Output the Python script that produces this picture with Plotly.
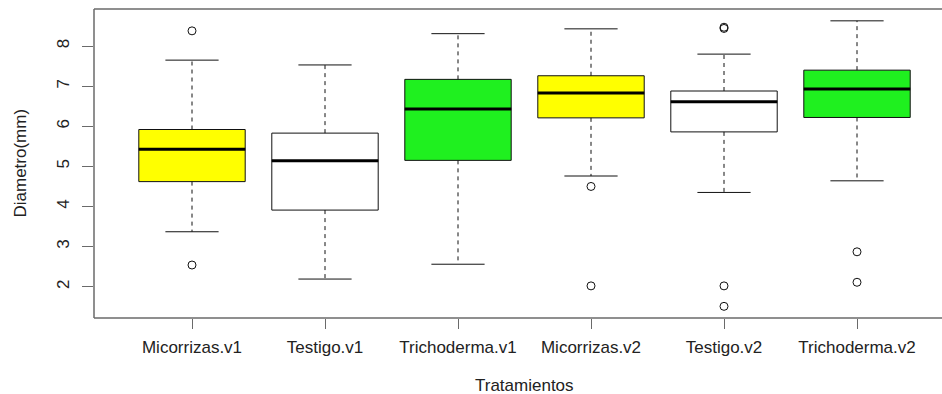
import plotly.graph_objects as go

# ---- data ----
categories = ["Micorrizas.v1", "Testigo.v1", "Trichoderma.v1",
              "Micorrizas.v2", "Testigo.v2", "Trichoderma.v2"]
lower_whisker = [3.37, 2.19, 2.56, 4.76, 4.35, 4.64]
q1 = [4.62, 3.91, 5.15, 6.21, 5.86, 6.22]
median = [5.43, 5.14, 6.43, 6.83, 6.61, 6.93]
q3 = [5.92, 5.83, 7.17, 7.26, 6.88, 7.40]
upper_whisker = [7.65, 7.53, 8.31, 8.43, 7.80, 8.63]
outliers = [[8.38, 2.54], [], [], [4.50, 2.02], [8.44, 8.47, 2.02, 1.51], [2.87, 2.11]]
fill_colors = ["#FFFF00", "#FFFFFF", "#1FF01F", "#FFFF00", "#FFFFFF", "#1FF01F"]
y_ticks = [2, 3, 4, 5, 6, 7, 8]

FONT = "Liberation Sans, Arial, Helvetica, sans-serif"
TXT = "#222222"
FRAME = "#6a6a6a"
BOXW = 0.8
CAPW = 0.4

fig = go.Figure()
positions = list(range(1, len(categories) + 1))

for i, pos in enumerate(positions):
    # dashed whiskers
    fig.add_trace(go.Scatter(
        x=[pos, pos, None, pos, pos],
        y=[q3[i], upper_whisker[i], None, q1[i], lower_whisker[i]],
        mode="lines", line=dict(color="#111111", width=1, dash="4px,4px"),
        hoverinfo="skip", showlegend=False))
    # whisker caps
    fig.add_trace(go.Scatter(
        x=[pos - CAPW / 2, pos + CAPW / 2, None, pos - CAPW / 2, pos + CAPW / 2],
        y=[upper_whisker[i], upper_whisker[i], None, lower_whisker[i], lower_whisker[i]],
        mode="lines", line=dict(color="#111111", width=1),
        hoverinfo="skip", showlegend=False))
    # box
    fig.add_trace(go.Box(
        x=[pos], q1=[q1[i]], median=[median[i]], q3=[q3[i]],
        lowerfence=[q1[i]], upperfence=[q3[i]],
        width=BOXW, whiskerwidth=0,
        fillcolor=fill_colors[i], line=dict(color="#111111", width=1),
        boxpoints=False, showlegend=False, hoverinfo="skip"))
    # thick median
    fig.add_trace(go.Scatter(
        x=[pos - BOXW / 2, pos + BOXW / 2], y=[median[i], median[i]],
        mode="lines", line=dict(color="#000000", width=3),
        hoverinfo="skip", showlegend=False))
    # outliers
    if outliers[i]:
        fig.add_trace(go.Scatter(
            x=[pos] * len(outliers[i]), y=outliers[i], mode="markers",
            marker=dict(symbol="circle-open", size=8, color="#111111",
                        line=dict(width=1, color="#111111")),
            hoverinfo="skip", showlegend=False))

L, R, T, B = 94, 0, 9, 76
W, H = 942, 394
plot_w = W - L - R
plot_h = H - T - B

frame_line = dict(color=FRAME, width=1.5)
fig.update_layout(
    width=W, height=H,
    margin=dict(l=L, r=R, t=T, b=B, pad=0),
    paper_bgcolor="white", plot_bgcolor="white",
    font=dict(family=FONT, size=17, color=TXT),
    showlegend=False,
    xaxis=dict(
        range=[0.2632, 6.639], tickmode="array", tickvals=positions,
        ticktext=categories, ticks="outside", ticklen=10, tickwidth=1,
        tickcolor=FRAME, showgrid=False, zeroline=False, showline=False,
        ticklabelstandoff=4,
        tickfont=dict(family=FONT, size=17, color=TXT)),
    yaxis=dict(
        range=[1.219, 8.925], tickmode="array", tickvals=y_ticks,
        ticktext=[str(v) for v in y_ticks], ticks="outside", ticklen=11,
        tickwidth=1, tickcolor=FRAME, tickangle=-90, showgrid=False,
        zeroline=False, showline=False, ticklabelstandoff=6,
        tickfont=dict(family=FONT, size=17, color=TXT)),
    shapes=[
        dict(type="line", xref="paper", yref="paper", x0=0, x1=0, y0=0, y1=1,
             line=frame_line, layer="above"),
        dict(type="line", xref="paper", yref="paper", x0=0, x1=1, y0=1, y1=1,
             line=frame_line, layer="above"),
        dict(type="line", xref="paper", yref="paper", x0=0, x1=1, y0=0, y1=0,
             line=frame_line, layer="above"),
    ],
    annotations=[
        dict(text="Diametro(mm)", xref="paper", yref="paper",
             x=(20 - L) / plot_w, y=0.5, xanchor="center", yanchor="middle",
             textangle=-90, showarrow=False, font=dict(family=FONT, size=17, color=TXT)),
        dict(text="Tratamientos", xref="paper", yref="paper",
             x=(524.5 - L) / plot_w, y=(T + plot_h - 385) / plot_h,
             xanchor="center", yanchor="middle", showarrow=False,
             font=dict(family=FONT, size=17, color=TXT)),
    ],
)

fig.write_html("out.html")
